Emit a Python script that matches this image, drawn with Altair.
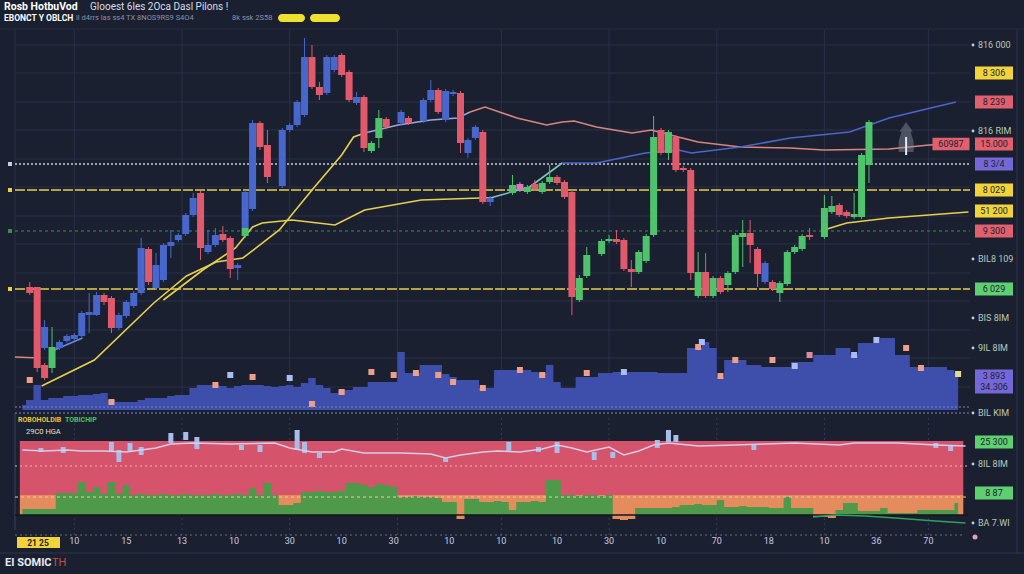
import altair as alt
import pandas as pd

BG = "#1b2030"
GRID = "#283049"
FONT = "Roboto"
RED = "#e05a6b"
BLUE = "#4767cc"
GREEN = "#4fc26c"
PINK = "#d27bb8"
YEL = "#e6cf4f"

# ---------------- data ----------------
candle_t = [0, 1, 2, 2, 3, 4, 5, 6, 7, 8,
            9, 10, 11, 12, 13, 14, 15, 16, 17, 18,
            19, 20, 21, 22, 23, 24, 25, 26, 27, 28,
            29, 29, 30, 31, 32, 34, 35, 36, 37, 38,
            39, 40, 41, 42, 43, 44, 45, 46, 47, 48,
            50, 51, 53, 54, 55, 56, 57, 58, 59, 60,
            61, 62, 65, 66, 67, 68, 69, 70, 71, 72,
            73, 74, 75, 77, 78, 79, 80, 81, 82, 83,
            84, 85, 86, 87, 88, 89, 90, 91, 92, 93,
            94, 95, 96, 97, 98, 99, 100, 101, 102, 103,
            104, 105, 107, 108, 109, 110, 111, 112, 113]
candle_kind = ["r", "r", "r", "b", "g", "b", "b", "b", "b", "b",
               "b", "r", "r", "b", "b", "b", "b", "r", "b", "b",
               "b", "b", "b", "b", "r", "b", "b", "r", "r", "b",
               "g", "b", "b", "r", "r", "b", "b", "b", "b", "r",
               "r", "b", "b", "r", "r", "b", "r", "g", "g", "r",
               "b", "r", "b", "b", "r", "b", "b", "r", "b", "b",
               "r", "b", "g", "p", "g", "r", "g", "g", "r", "r",
               "r", "g", "g", "g", "g", "r", "r", "r", "g", "g",
               "g", "r", "g", "r", "r", "r", "g", "r", "g", "r",
               "g", "g", "g", "r", "r", "b", "r", "g", "g", "g",
               "g", "r", "g", "g", "r", "r", "g", "g", "g"]
candle_open = [213, 213, 135, 152, 132, 152, 159, 161, 164, 185,
               185, 205, 202, 172, 184, 194, 207, 251, 212, 220,
               254, 260, 266, 285, 307, 248, 255, 266, 262, 232,
               264, 272, 291, 377, 355, 314, 370, 375, 385, 443,
               413, 407, 430, 445, 428, 397, 403, 349, 362, 381,
               377, 382, 379, 400, 410, 380, 406, 407, 347, 362,
               368, 298, 307, 316, 308, 316, 308, 318, 323, 318,
               308, 200, 224, 246, 259, 261, 260, 231, 228, 239,
               265, 370, 347, 363, 332, 330, 204, 228, 204, 222,
               215, 228, 263, 267, 251, 218, 218, 207, 216, 248,
               251, 265, 263, 288, 295, 288, 283, 283, 335]
candle_close = [207, 132, 122, 173, 153, 158, 164, 165, 187, 188,
                205, 198, 172, 185, 198, 207, 252, 218, 235, 255,
                258, 265, 285, 302, 252, 255, 265, 260, 231, 235,
                272, 308, 377, 353, 323, 370, 375, 398, 443, 413,
                405, 443, 443, 425, 400, 403, 352, 357, 382, 373,
                388, 377, 400, 410, 388, 409, 408, 357, 360, 373,
                298, 302, 315, 310, 313, 311, 317, 323, 317, 303,
                203, 222, 245, 259, 261, 258, 231, 228, 248, 264,
                363, 347, 368, 330, 330, 227, 228, 204, 222, 208,
                227, 265, 267, 255, 226, 237, 211, 217, 248, 253,
                264, 263, 292, 294, 285, 284, 286, 345, 378]
candle_high = [218, 213, 137, 180, 173, 160, 166, 167, 189, 207,
               208, 207, 204, 187, 200, 209, 262, 253, 247, 257,
               270, 267, 287, 307, 309, 270, 272, 274, 264, 237,
               274, 310, 380, 379, 370, 372, 377, 400, 462, 455,
               418, 445, 445, 447, 430, 408, 405, 359, 390, 383,
               390, 384, 402, 420, 412, 411, 410, 409, 362, 375,
               370, 304, 325, 318, 315, 320, 319, 335, 325, 320,
               310, 225, 253, 261, 265, 270, 262, 240, 250, 266,
               384, 372, 370, 365, 334, 332, 248, 247, 224, 224,
               229, 267, 280, 280, 253, 239, 220, 219, 250, 255,
               266, 272, 305, 304, 297, 290, 307, 347, 380]
candle_low = [205, 128, 120, 150, 127, 150, 157, 159, 163, 167,
              184, 195, 167, 170, 182, 192, 205, 215, 210, 218,
              242, 258, 264, 283, 240, 246, 253, 258, 222, 220,
              262, 270, 289, 350, 317, 312, 368, 373, 383, 411,
              400, 405, 428, 423, 398, 395, 348, 347, 352, 371,
              375, 375, 377, 398, 386, 378, 404, 347, 342, 360,
              296, 294, 305, 308, 306, 309, 306, 316, 315, 301,
              185, 198, 222, 244, 257, 256, 229, 213, 226, 237,
              263, 345, 340, 328, 328, 220, 202, 202, 202, 206,
              208, 226, 233, 237, 213, 216, 209, 198, 214, 246,
              249, 260, 261, 286, 283, 282, 281, 281, 317]

# moving averages (price units)
maA_t = [1.6, 8.7, 16.7, 21.1, 25.1, 28.7, 33.6, 38, 42, 43.6, 45.1, 49.6, 54, 57.6, 59.3,
         61.3, 65.6, 69.6, 71.7, 73.3, 76.3, 81.1, 83.7, 87.3, 90, 95.7, 102.4, 106.9, 115.7, 121.1, 125.7]
maA_p = [114, 140, 197, 224, 238, 242, 270, 310, 345, 363, 367, 375, 380, 382, 388,
         393, 382, 375, 378, 379, 373, 367, 370, 363, 358, 353, 352, 350, 351, 355, 356]
maB_t = [18, 23.3, 27.7, 30, 31.3, 35.3, 41.1, 45.1, 52.7, 60.7, 62, 67.3, 71.7, 76.3,
         82.9, 87.3, 89.1, 95.7, 102.4, 110.4, 115.7, 124.7]
maB_p = [200, 230, 252, 273, 277, 280, 275, 290, 300, 302, 302, 313, 337, 337,
         347, 350, 347, 353, 362, 368, 382, 398]
maC_t = [106.9, 110, 115.7, 126.4]
maC_p = [270, 277, 282, 288]
short_salmon_t = [-2, 1.3]
short_salmon_p = [143, 142]
short_blue_t = [3.3, 7.1]
short_blue_p = [150, 162]

# horizontal levels
level_p = [336, 310, 269, 211]
level_kind = ["white", "yellow", "green", "yellow"]

# volume
vol_t = list(range(-1, 126))
vol_v = [5, 10, 25, 10, 12, 12, 14, 14, 15, 15, 16, 17, 10, 8, 8, 8, 10, 12, 12, 12,
         14, 15, 15, 22, 25, 25, 25, 24, 22, 24, 25, 25, 25, 24, 23, 24, 25, 23, 27, 32,
         25, 22, 17, 20, 20, 23, 23, 28, 28, 28, 28, 58, 37, 37, 45, 45, 45, 36, 33, 30,
         30, 30, 22, 22, 40, 40, 40, 40, 40, 38, 37, 45, 28, 22, 22, 33, 33, 33, 37, 37,
         38, 38, 38, 38, 38, 38, 37, 37, 37, 37, 62, 62, 68, 62, 33, 50, 50, 50, 45, 45,
         43, 43, 43, 43, 48, 48, 48, 55, 55, 55, 62, 62, 55, 67, 67, 67, 72, 72, 55, 55,
         43, 43, 43, 43, 43, 40, 37]
vsq_t = [0, 11, 25, 27, 30, 35, 38, 42, 46, 49, 52, 55, 57, 61, 66, 69, 75, 80, 90, 90.5,
         93, 95, 100, 103, 105, 111, 114, 118, 120, 125]
vsq_v = [30, 8, 25, 35, 33, 32, 6, 18, 38, 35, 37, 35, 28, 22, 40, 35, 37, 38, 63, 68,
         34, 50, 50, 44, 55, 55, 70, 62, 42, 36]
vsq_kind = ["s", "s", "s", "l", "s", "l", "s", "s", "s", "s", "s", "s", "s", "s", "s", "s", "s", "l", "s", "l",
            "s", "s", "s", "l", "p", "l", "l", "s", "s", "y"]

# oscillator panel
green_o = [16, 16, 16, 16, 16, 32, 32, 32, 43, 33, 38, 31, 43, 31, 40,
           30, 31, 30, 30, 31, 30, 30, 31, 30, 30, 30, 31, 30, 30, 31, 30,
           37, 30, 42, 30, 20, 20, 22, 33, 33, 34, 33, 33, 34, 42, 42,
           40, 38, 41, 40, 38, 28, 28, 29, 28, 28, 27, 23, 23, 10, 26, 26,
           23, 23, 24, 23, 15, 23, 23, 24, 23, 45, 45, 30, 30, 29, 30, 30, 29, 30,
           10, 10, 10, 17, 17, 17, 17, 17, 18, 20, 20, 21, 20, 20, 25,
           18, 18, 19, 18, 18, 18, 17, 17, 28, 17, 17, 17, 10, 10, 10, 15, 22, 22,
           14, 14, 14, 17, 12, 12, 12, 12, 15, 15, 15, 15, 15, 22]
dip_t = [58, 79, 80, 81, 106, 107, 108]
dip_o = [6, 6, 5, 6, 8, 8, 7]
osc_t = [-1, 2, 5, 7, 10, 13, 17, 19, 22, 27, 33, 35, 38, 41, 42, 45, 50, 54, 56, 58,
         61, 63, 66, 69, 71, 73, 75, 78, 80, 82, 84, 86, 90, 95, 99, 103, 109, 111, 117, 122, 126]
osc_o = [75, 74, 75, 74, 74, 73, 77, 81, 82, 81, 82, 77, 73, 73, 76, 72, 72, 71, 67, 70,
         73, 74, 73, 76, 80, 77, 73, 78, 70, 74, 80, 82, 79, 80, 81, 82, 80, 82, 82, 80, 79]
orect_t = [1.5, 4.5, 11, 12, 13.5, 15, 19, 21, 22.5, 28.5, 31, 36, 37, 39, 56, 64.5, 68.5,
           71, 76, 78.5, 84.5, 86, 87, 97.5, 122, 124]
orect_hi = [77, 78, 83, 75, 82, 78, 92, 93, 88, 80, 80, 95, 83, 72, 67, 83, 78,
            83, 73, 73, 85, 95, 90, 80, 82, 79]
orect_lo = [73, 72, 73, 63, 73, 70, 82, 85, 76, 75, 73, 75, 72, 67, 63, 73, 73,
            72, 65, 67, 77, 83, 83, 75, 77, 74]
gline_t = [105.5, 108.5, 112.5, 116.5, 122, 126]
gline_o = [8, 10, 9, 7, 4, 2]

# right-hand labels
lab_p = [455, 427, 398, 369, 356, 336, 310, 289, 269, 241, 211, 182, 152, 124, 113, 87]
lab_txt = ["816 000", "8 306", "8 239", "816 RIM", "15.000", "8 3/4", "8 029", "51 200",
           "9 300", "BIL8 109", "6 029", "BIS 8IM", "9IL 8IM", "3 893", "34.306", "BIL KIM"]
lab_kind = ["t", "y", "r", "t", "r", "p", "y", "y", "r", "t", "g", "t", "t", "p", "p", "t"]
olab_o = [83, 61, 32, 2]
olab_txt = ["25 300", "8IL 8IM", "8 87", "BA 7.WI"]
olab_kind = ["g", "t", "g", "t"]

# grid / ticks
grid_p = [455, 427, 398, 370, 341, 313, 284, 256, 227, 199, 170, 142, 113]
grid_t = [6, 20.5, 35, 49.5, 63.5, 78, 92.5, 107, 121]
tick_t = [6, 13, 20.5, 27.5, 35, 42, 49, 56.5, 63.5, 71, 78, 85, 92.5, 99.5, 107, 114, 121]
tick_lab = ["10", "15", "13", "10", "30", "10", "30", "10", "10", "10", "30", "10", "70", "18", "10", "36", "70"]

# ---------------- scales ----------------
XS = alt.Scale(domain=[-3.3333, 133.2], nice=False, zero=False)
PY = alt.Scale(domain=[-74, 500], nice=False, zero=False)
VY = alt.Scale(domain=[-164, 410], nice=False, zero=False)
OY = alt.Scale(domain=[-49, 525], nice=False, zero=False)
ONE = pd.DataFrame({"d": [0]})


def X(f):
    return alt.X(f + ":Q", scale=XS, axis=None)


def Y(f, s):
    return alt.Y(f + ":Q", scale=s, axis=None)


def txt(s, x, y, color, size, weight="normal", align="left"):
    return alt.Chart(ONE).mark_text(text=s, align=align, baseline="middle", color=color,
                                    fontSize=size, fontWeight=weight, font=FONT).encode(
        x=alt.value(x), y=alt.value(y))


def seg_lines(ts, ps, cuts, colors, scale, width=1.6):
    out = []
    bounds = [0] + cuts + [len(ts) - 1]
    for i, col in enumerate(colors):
        a, b = bounds[i], bounds[i + 1]
        df = pd.DataFrame({"t": ts[a:b + 1], "p": ps[a:b + 1]})
        out.append(alt.Chart(df).mark_line(color=col, strokeWidth=width).encode(
            x=X("t"), y=Y("p", scale)))
    return out


layers = []

# grid
gp = pd.DataFrame({"p": grid_p})
layers.append(alt.Chart(gp).mark_rule(color=GRID, strokeWidth=1).encode(
    x=alt.value(15), x2=alt.value(970), y=Y("p", PY)))
gt = pd.DataFrame({"t": grid_t})
layers.append(alt.Chart(gt).mark_rule(color=GRID, strokeWidth=1).encode(
    x=X("t"), y=alt.value(30), y2=alt.value(410)))
layers.append(alt.Chart(gt).mark_rule(color="#343c58", strokeWidth=1, strokeDash=[2, 3]).encode(
    x=X("t"), y=alt.value(418), y2=alt.value(537)))
# frame lines
layers.append(alt.Chart(ONE).mark_rule(color=GRID).encode(x=alt.value(15), y=alt.value(30), y2=alt.value(410)))
layers.append(alt.Chart(ONE).mark_rule(color="#3a4260").encode(x=alt.value(15), y=alt.value(413), y2=alt.value(530)))
layers.append(alt.Chart(ONE).mark_rule(color="#2c3450").encode(x=alt.value(1017), y=alt.value(30), y2=alt.value(553)))
layers.append(alt.Chart(ONE).mark_rule(color="#2c3450").encode(x=alt.value(0), x2=alt.value(1024), y=alt.value(553)))
layers.append(alt.Chart(ONE).mark_rule(color="#262d42").encode(x=alt.value(0), x2=alt.value(1024), y=alt.value(29)))

# volume
vdf = pd.DataFrame({"t": vol_t, "v": vol_v})
layers.append(alt.Chart(vdf).mark_area(interpolate="step", color="#3d4faa").encode(
    x=X("t"), y=Y("v", VY), y2=alt.datum(0)))
vsq = pd.DataFrame({"t": vsq_t, "v": vsq_v, "k": vsq_kind})
layers.append(alt.Chart(vsq).mark_square(size=36, opacity=1).encode(
    x=X("t"), y=Y("v", VY),
    color=alt.Color("k:N", scale=alt.Scale(domain=["s", "l", "p", "y"],
                                           range=["#ef9e88", "#a9bdf0", "#e08aa0", "#e8d890"]), legend=None)))
vline = pd.DataFrame({"v": [3, -3]})
layers.append(alt.Chart(vline).mark_rule(color="#7886c8", strokeDash=[2, 2], strokeWidth=1).encode(
    x=alt.value(15), x2=alt.value(970), y=Y("v", VY)))

# horizontal levels
lvl_style = {"white": ("#c9cde0", [2, 2], 1.3), "yellow": ("#e8d048", [10, 2], 1.6),
             "green": ("#3f8a52", [3, 3], 1.2)}
for p, k in zip(level_p, level_kind):
    col, dash, w = lvl_style[k]
    d = pd.DataFrame({"p": [p]})
    layers.append(alt.Chart(d).mark_rule(color=col, strokeDash=dash, strokeWidth=w).encode(
        x=alt.value(15), x2=alt.value(970), y=Y("p", PY)))
    layers.append(alt.Chart(d).mark_square(size=16, color=col, opacity=1).encode(
        x=alt.value(10), y=Y("p", PY)))

# moving averages
layers += seg_lines(maA_t, maA_p, [10, 14], [YEL, "#9aa6e0", "#d9857e"], PY)
layers += seg_lines(maB_t, maB_p, [10, 12], [YEL, "#7fc4c0", "#4a66cc"], PY)
layers += seg_lines(maC_t, maC_p, [], [YEL], PY)
layers += seg_lines(short_salmon_t, short_salmon_p, [], ["#d9857e"], PY)
layers += seg_lines(short_blue_t, short_blue_p, [], ["#6a88e0"], PY)

# candles
cdf = pd.DataFrame({"t": candle_t, "kind": candle_kind, "open": candle_open,
                    "close": candle_close, "high": candle_high, "low": candle_low})
ccol = alt.Color("kind:N", scale=alt.Scale(domain=["r", "b", "g", "p"], range=[RED, BLUE, GREEN, PINK]),
                 legend=None)
layers.append(alt.Chart(cdf).mark_rule(strokeWidth=1).encode(
    x=X("t"), y=Y("low", PY), y2="high", color=ccol))
layers.append(alt.Chart(cdf).mark_bar(size=7).encode(
    x=X("t"), y=Y("open", PY), y2="close", color=ccol))

# alert marker
HOUSE = "M0,-1L0.45,-0.35L0.3,-0.35L0.5,0.3L0.5,1L-0.5,1L-0.5,0.3L-0.3,-0.35L-0.45,-0.35Z"
layers.append(alt.Chart(pd.DataFrame({"t": [118], "p": [363]})).mark_point(
    shape=HOUSE, size=900, filled=True, color="#8a909e", opacity=0.45).encode(x=X("t"), y=Y("p", PY)))
layers.append(alt.Chart(pd.DataFrame({"t": [118], "p": [363], "q": [345]})).mark_rule(
    color="#e8e8f0", strokeWidth=2).encode(x=X("t"), y=Y("p", PY), y2="q"))

# right labels (price)
BOX = "M-1,-0.34H1V0.34H-1Z"
box_scale = alt.Scale(domain=["y", "r", "p", "g"], range=["#f2d43a", "#e0606e", "#7468d8", "#5fd070"])
ldf = pd.DataFrame({"p": lab_p, "txt": lab_txt, "kind": lab_kind})
lbox = ldf[ldf.kind != "t"]
lplain = ldf[ldf.kind == "t"]
layers.append(alt.Chart(lbox).mark_point(shape=BOX, size=1444, filled=True, opacity=1).encode(
    x=alt.value(994), y=Y("p", PY), color=alt.Color("kind:N", scale=box_scale, legend=None)))
layers.append(alt.Chart(lbox).mark_text(align="center", baseline="middle", fontSize=9, color="#1d1f33",
                                        font=FONT).encode(x=alt.value(994), y=Y("p", PY), text="txt:N"))
layers.append(alt.Chart(lplain).mark_text(align="left", baseline="middle", fontSize=9, color="#b9c9b9",
                                          font=FONT).encode(x=alt.value(978), y=Y("p", PY), text="txt:N"))
layers.append(alt.Chart(lplain).mark_circle(size=8, color="#c8ccd8", opacity=1).encode(
    x=alt.value(973), y=Y("p", PY)))
extra = pd.DataFrame({"p": [356], "txt": ["60987"]})
layers.append(alt.Chart(extra).mark_point(shape=BOX, size=1369, filled=True, opacity=1, color="#e0606e").encode(
    x=alt.value(951), y=Y("p", PY)))
layers.append(alt.Chart(extra).mark_text(align="center", baseline="middle", fontSize=9, color="#1d1f33",
                                         font=FONT).encode(x=alt.value(951), y=Y("p", PY), text="txt:N"))

# oscillator panel
band = pd.DataFrame({"t0": [-1.33, -1.33], "t1": [125.7, 125.7], "hi": [84, 30], "lo": [30, 10],
                     "k": ["red", "orange"]})
layers.append(alt.Chart(band).mark_rect().encode(
    x=X("t0"), x2="t1", y=Y("hi", OY), y2="lo",
    color=alt.Color("k:N", scale=alt.Scale(domain=["red", "orange"], range=["#d5536b", "#e48c5e"]), legend=None)))
ddf = pd.DataFrame({"t": dip_t, "o": dip_o})
layers.append(alt.Chart(ddf).mark_bar(size=8, color="#e48c5e").encode(x=X("t"), y=Y("o", OY), y2=alt.datum(10)))
gdf = pd.DataFrame({"t": vol_t, "g": green_o})
layers.append(alt.Chart(gdf).mark_area(interpolate="step", color="#4e9a4a").encode(
    x=X("t"), y=Y("g", OY), y2=alt.datum(10)))
odash = pd.DataFrame({"o": [59, 28], "k": ["a", "b"]})
layers.append(alt.Chart(odash[odash.k == "a"]).mark_rule(color="#efb0bd", strokeDash=[2, 3]).encode(
    x=alt.value(15), x2=alt.value(968), y=Y("o", OY)))
layers.append(alt.Chart(odash[odash.k == "b"]).mark_rule(color="#f6c79a", strokeDash=[3, 3]).encode(
    x=alt.value(15), x2=alt.value(968), y=Y("o", OY)))
layers.append(alt.Chart(pd.DataFrame({"o": [-10]})).mark_rule(color="#6a7088", strokeDash=[2, 3]).encode(
    x=alt.value(15), x2=alt.value(962), y=Y("o", OY)))
layers.append(alt.Chart(pd.DataFrame({"o": [10]})).mark_rule(color="#12141c", strokeWidth=1.5).encode(
    x=alt.value(15), x2=alt.value(968), y=Y("o", OY)))
rdf = pd.DataFrame({"t": orect_t, "hi": orect_hi, "lo": orect_lo})
layers.append(alt.Chart(rdf).mark_bar(size=5, color="#a9bde8").encode(x=X("t"), y=Y("hi", OY), y2="lo"))
oldf = pd.DataFrame({"t": osc_t, "o": osc_o})
layers.append(alt.Chart(oldf).mark_line(color="#d4cdea", strokeWidth=1.5).encode(x=X("t"), y=Y("o", OY)))
gl = pd.DataFrame({"t": gline_t, "o": gline_o})
layers.append(alt.Chart(gl).mark_line(color="#2fa060", strokeWidth=1.6).encode(x=X("t"), y=Y("o", OY)))

odf = pd.DataFrame({"o": olab_o, "txt": olab_txt, "kind": olab_kind})
obox = odf[odf.kind != "t"]
oplain = odf[odf.kind == "t"]
layers.append(alt.Chart(obox).mark_point(shape=BOX, size=1444, filled=True, opacity=1).encode(
    x=alt.value(994), y=Y("o", OY), color=alt.Color("kind:N", scale=box_scale, legend=None)))
layers.append(alt.Chart(obox).mark_text(align="center", baseline="middle", fontSize=9, color="#1d1f33",
                                        font=FONT).encode(x=alt.value(994), y=Y("o", OY), text="txt:N"))
layers.append(alt.Chart(oplain).mark_text(align="left", baseline="middle", fontSize=9, color="#b9c9b9",
                                          font=FONT).encode(x=alt.value(978), y=Y("o", OY), text="txt:N"))
layers.append(alt.Chart(oplain).mark_circle(size=8, color="#c8ccd8", opacity=1).encode(
    x=alt.value(973), y=Y("o", OY)))
layers.append(alt.Chart(pd.DataFrame({"o": [-12]})).mark_circle(size=25, color="#d8a0c8", opacity=1).encode(
    x=alt.value(975), y=Y("o", OY)))

# x tick labels
tdf = pd.DataFrame({"t": tick_t, "lab": tick_lab})
layers.append(alt.Chart(tdf).mark_text(fontSize=9, color="#c8cce0", font=FONT, baseline="middle").encode(
    x=X("t"), y=alt.value(541), text="lab:N"))

# header / footer texts
layers.append(txt("Rosb HotbuVod", 4, 7, "#ffffff", 10.5, "bold"))
layers.append(txt("Glooest 6les 2Oca Dasl Pilons !", 90, 7, "#d8dcea", 10))
layers.append(txt("EBONCT Y OBLCH", 4, 18, "#ffffff", 8.5, "bold"))
layers.append(txt("ll   d4rrs   las   ss4   TX   8NOS9RS9      S4O4", 76, 18, "#8a90a8", 7.5))
layers.append(txt("8k ssk 2S58", 232, 18, "#8a90a8", 7.5))
layers.append(alt.Chart(ONE).mark_rect(cornerRadius=4, color="#f0e030").encode(
    x=alt.value(278), x2=alt.value(305), y=alt.value(14), y2=alt.value(22)))
layers.append(alt.Chart(ONE).mark_rect(cornerRadius=4, color="#f0e030").encode(
    x=alt.value(310), x2=alt.value(340), y=alt.value(14), y2=alt.value(22)))
layers.append(txt("ROBOHOLDIB", 18, 420, "#e0c840", 7, "bold"))
layers.append(txt("TOBICHIP", 65, 420, "#50c060", 7, "bold"))
layers.append(txt("29C0 HGA", 26, 432, "#e8e0d0", 7.5))
layers.append(alt.Chart(ONE).mark_rect(color="#f2d43a").encode(
    x=alt.value(17), x2=alt.value(60), y=alt.value(537), y2=alt.value(548)))
layers.append(txt("21 25", 38, 542.5, "#1d1f33", 8.5, "bold", "center"))
layers.append(txt("EI SOMIC", 5, 563, "#e8eaf2", 11, "bold"))
layers.append(txt("TH", 52, 563, "#c0504a", 11))

chart = alt.layer(*layers).resolve_scale(y="independent", color="independent").properties(
    width=1024, height=574, background=BG, padding=0,
    autosize=alt.AutoSizeParams(type="none")
).configure_view(strokeWidth=0)

chart.save("out.html", embed_options={"renderer": "svg", "actions": False})
